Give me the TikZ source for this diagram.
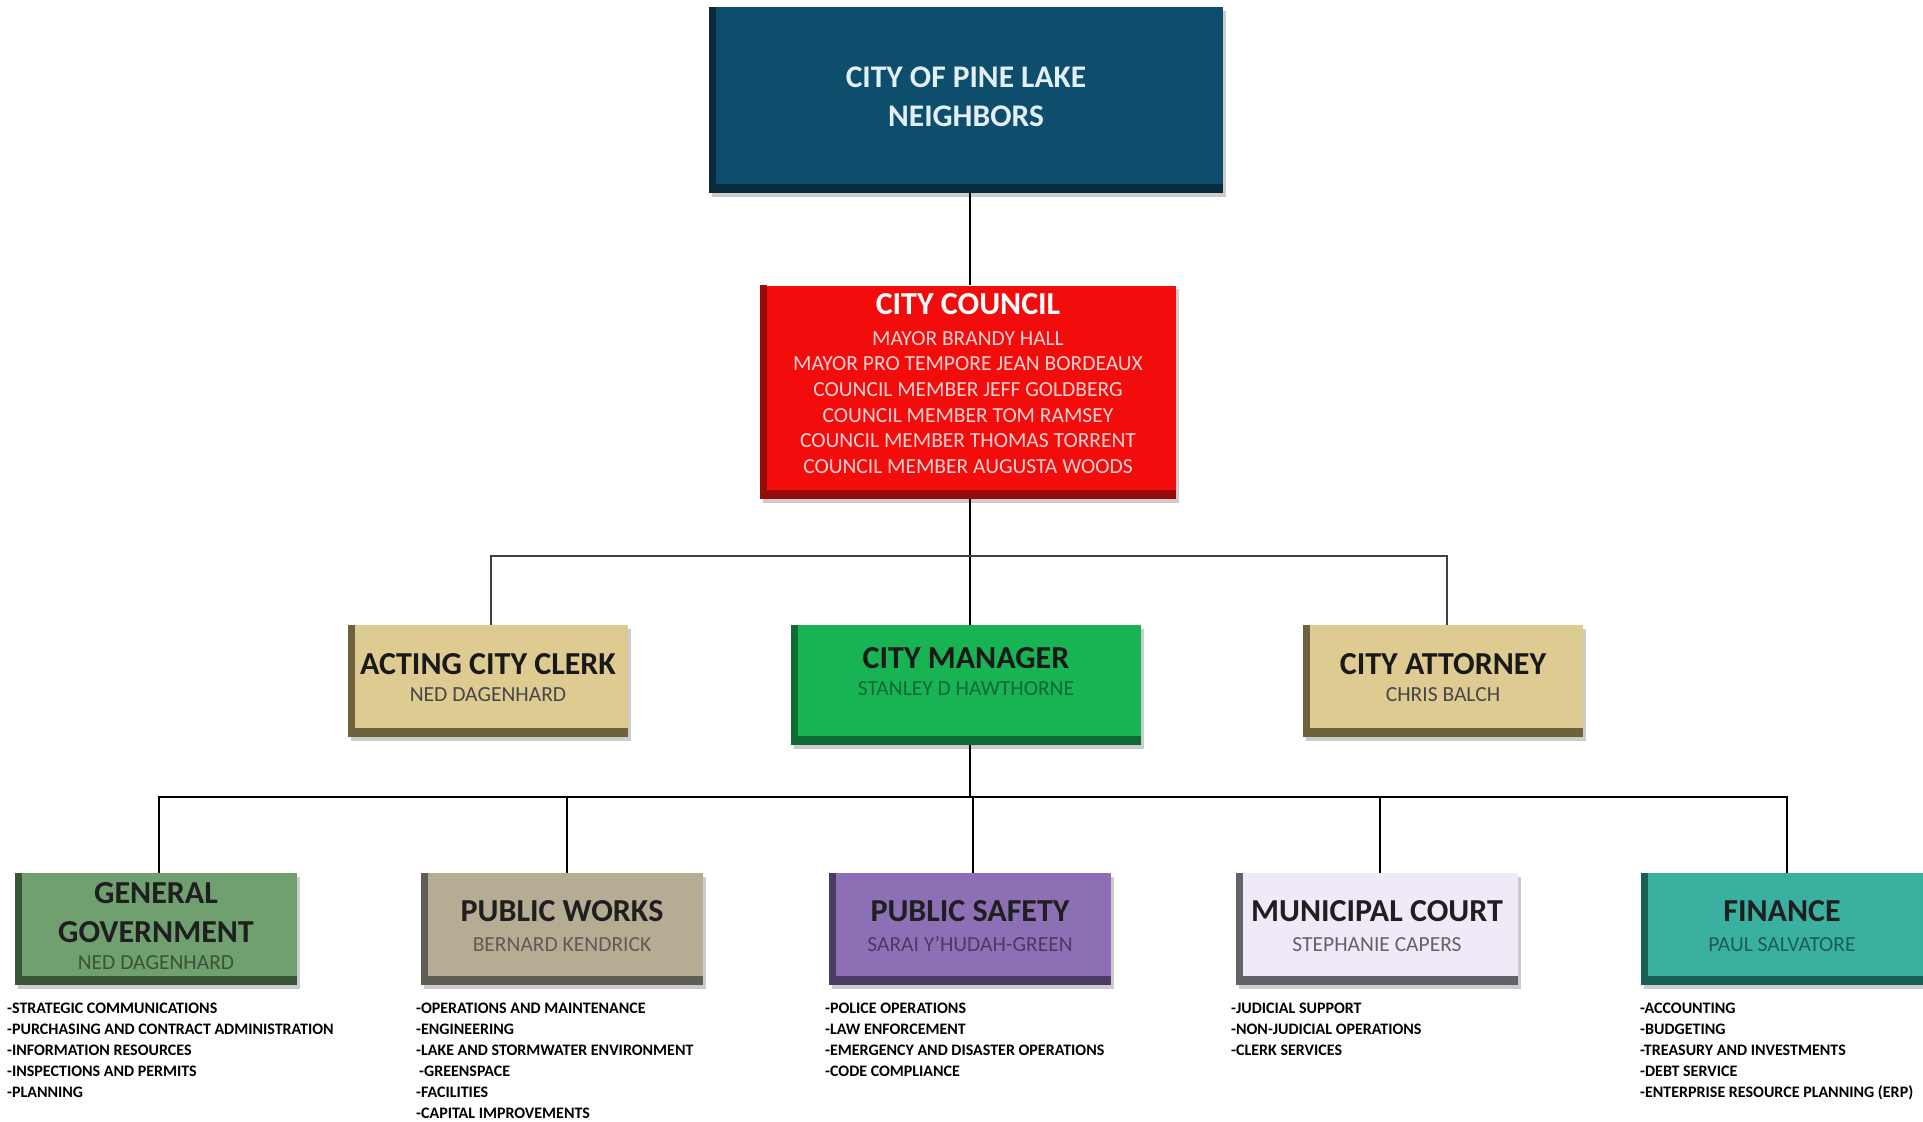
\documentclass[tikz,border=0pt]{standalone}
\usepackage{fontspec}
\setmainfont{Carlito}
\usetikzlibrary{backgrounds}
\definecolor{topface}{RGB}{14,77,107}
\definecolor{topbase}{RGB}{8,42,58}
\definecolor{toptext}{RGB}{226,240,246}
\definecolor{cnface}{RGB}{242,12,12}
\definecolor{cnbase}{RGB}{150,10,10}
\definecolor{cntext}{RGB}{250,210,210}
\definecolor{tanface}{RGB}{222,203,145}
\definecolor{tanbase}{RGB}{110,98,60}
\definecolor{mgface}{RGB}{24,180,84}
\definecolor{mgbase}{RGB}{14,105,50}
\definecolor{ggface}{RGB}{112,160,112}
\definecolor{ggbase}{RGB}{55,85,55}
\definecolor{pwface}{RGB}{182,172,148}
\definecolor{pwbase}{RGB}{95,92,85}
\definecolor{psface}{RGB}{141,111,182}
\definecolor{psbase}{RGB}{75,58,100}
\definecolor{mcface}{RGB}{240,233,248}
\definecolor{mcbase}{RGB}{100,98,105}
\definecolor{fnface}{RGB}{58,176,160}
\definecolor{fnbase}{RGB}{25,95,85}
\tikzset{
  orgbox/.style={draw=none, fill=#1, inner sep=0pt, align=center,
    font=\fontsize{21.5}{27}\selectfont},
  midbox/.style={minimum width=280pt, minimum height=112pt},
  lowbox/.style={minimum width=281pt, minimum height=112pt},
  itemlist/.style={anchor=north west, inner sep=0pt, align=left,
    font=\bfseries\fontsize{16}{21}\selectfont, text=black},
  blackline/.style={line width=2.6pt, black},
  grayline/.style={line width=1.8pt, black!75},
  softshadow/.style={fill=black, opacity=.2}
}
\newcommand{\bigt}[1]{{\bfseries\fontsize{32}{27}\selectfont #1}}
\newcommand{\subn}[2]{{\color{#1}#2}}
\newcommand{\lift}[1]{\rule[-#1]{0pt}{0pt}}
\newcommand{\boxshadow}[1]{\fill[softshadow] ([shift={(3pt,-4pt)}]#1.north west) rectangle ([shift={(3pt,-4pt)}]#1.south east);}
\newcommand{\bevel}[2]{\fill[#2] (#1.north west) rectangle ([xshift=7pt]#1.south west);
  \fill[#2] (#1.south west) rectangle ([yshift=9pt]#1.south east);}
\begin{document}
\begin{tikzpicture}[x=1pt,y=-1pt]
\useasboundingbox (0,0) rectangle (1923,1122);
% top
\node[orgbox=topface, minimum width=514pt, minimum height=186pt,
  text=toptext, font=\bfseries\fontsize{31.5}{39}\selectfont] (top) at (966,100)
  {CITY OF PINE LAKE\\NEIGHBORS\lift{6pt}};
% council
\node[orgbox=cnface, minimum width=415pt, minimum height=213pt, text=cntext,
  font=\fontsize{21.5}{25.7}\selectfont] (council) at (968,392)
  {{\color{white}\bfseries\fontsize{32}{25.5}\selectfont CITY COUNCIL}\\[5pt]
   MAYOR BRANDY HALL\\
   MAYOR PRO TEMPORE JEAN BORDEAUX\\
   COUNCIL MEMBER JEFF GOLDBERG\\
   COUNCIL MEMBER TOM RAMSEY\\
   COUNCIL MEMBER THOMAS TORRENT\\
   COUNCIL MEMBER AUGUSTA WOODS\lift{17pt}};
% middle row
\node[orgbox=tanface, midbox, text=black!90] (clerk) at (488,681)
  {\bigt{ACTING CITY CLERK}\\\subn{black!72}{NED DAGENHARD}\lift{7pt}};
\node[orgbox=mgface, minimum width=350pt, minimum height=120pt, text=black!90] (mgr) at (966,685)
  {\bigt{CITY MANAGER}\\\subn{mgbase}{STANLEY D HAWTHORNE}\lift{28pt}};
\node[orgbox=tanface, midbox, text=black!90] (att) at (1443,681)
  {\bigt{CITY ATTORNEY}\\\subn{black!72}{CHRIS BALCH}\lift{7pt}};
% bottom row
\node[orgbox=ggface, lowbox, text=black!88] (gg) at (156,929)
  {\bigt{GENERAL}\\[12pt]\bigt{GOVERNMENT}\\\subn{ggbase}{NED DAGENHARD}\lift{7pt}};
\node[orgbox=pwface, lowbox, text=black!88] (pw) at (562,929)
  {\bigt{PUBLIC WORKS}\\[3pt]\subn{pwbase}{BERNARD KENDRICK}\lift{7pt}};
\node[orgbox=psface, lowbox, text=black!88] (ps) at (970,929)
  {\bigt{PUBLIC SAFETY}\\[3pt]\subn{psbase}{SARAI Y'HUDAH-GREEN}\lift{7pt}};
\node[orgbox=mcface, lowbox, text=black!88] (mc) at (1377,929)
  {\bigt{MUNICIPAL COURT}\\[3pt]\subn{mcbase}{STEPHANIE CAPERS}\lift{7pt}};
\node[orgbox=fnface, lowbox, text=black!88] (fn) at (1782,929)
  {\bigt{FINANCE}\\[3pt]\subn{fnbase}{PAUL SALVATORE}\lift{7pt}};
\bevel{top}{topbase}
\bevel{council}{cnbase}
\bevel{clerk}{tanbase}
\bevel{mgr}{mgbase}
\bevel{att}{tanbase}
\bevel{gg}{ggbase}
\bevel{pw}{pwbase}
\bevel{ps}{psbase}
\bevel{mc}{mcbase}
\bevel{fn}{fnbase}
\begin{scope}[on background layer]
\fill[white] (0,0) rectangle (1923,1122);
\foreach \n in {top,council,clerk,mgr,att,gg,pw,ps,mc,fn}{\boxshadow{\n}}
\end{scope}
% lists
\node[itemlist] (ggl) at (7,1003) {-STRATEGIC COMMUNICATIONS\\-PURCHASING AND CONTRACT ADMINISTRATION\\-INFORMATION RESOURCES\\-INSPECTIONS AND PERMITS\\-PLANNING};
\node[itemlist] (pwl) at (416,1003) {-OPERATIONS AND MAINTENANCE\\-ENGINEERING\\-LAKE AND STORMWATER ENVIRONMENT\\\hspace{3pt}-GREENSPACE\\-FACILITIES\\-CAPITAL IMPROVEMENTS};
\node[itemlist] (psl) at (825,1003) {-POLICE OPERATIONS\\-LAW ENFORCEMENT\\-EMERGENCY AND DISASTER OPERATIONS\\-CODE COMPLIANCE};
\node[itemlist] (mcl) at (1231,1003) {-JUDICIAL SUPPORT\\-NON-JUDICIAL OPERATIONS\\-CLERK SERVICES};
\node[itemlist] (fnl) at (1640,1003) {-ACCOUNTING\\-BUDGETING\\-TREASURY AND INVESTMENTS\\-DEBT SERVICE\\-ENTERPRISE RESOURCE PLANNING (ERP)};
% connectors
\coordinate (hub) at (970,556);
\coordinate (bus) at (970,797);
\draw[blackline] (top.south -| hub) -- (council.north -| hub);
\draw[blackline] (council.south -| hub) -- (mgr.north -| hub);
\draw[grayline] ([xshift=3pt]clerk.north) |- (hub) -| ([xshift=4pt]att.north);
\draw[blackline] (mgr.south -| bus) -- (bus);
\draw[blackline] ([xshift=3pt]gg.north) |- (bus) -| ([xshift=5pt]fn.north);
\draw[blackline] ([xshift=5pt]pw.north) -- ([xshift=5pt]pw.north |- bus);
\draw[blackline] ([xshift=3pt]ps.north) -- ([xshift=3pt]ps.north |- bus);
\draw[blackline] ([xshift=3pt]mc.north) -- ([xshift=3pt]mc.north |- bus);
\end{tikzpicture}
\end{document}
